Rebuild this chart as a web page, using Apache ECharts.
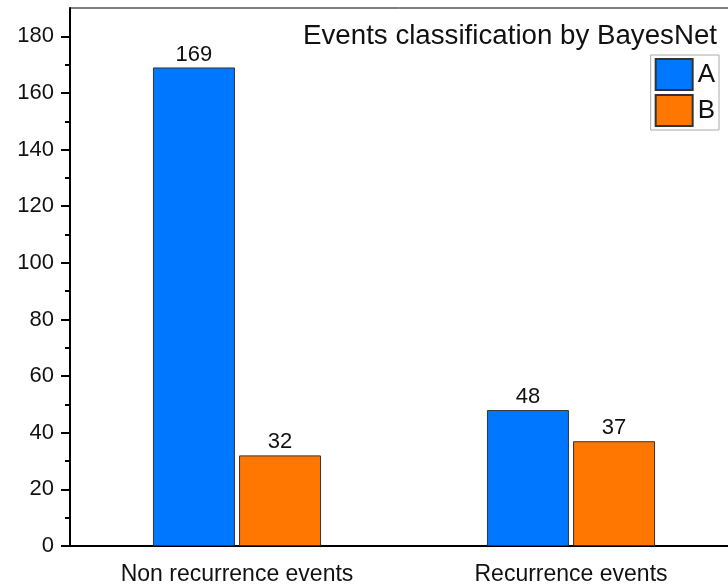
<!DOCTYPE html>
<html>
<head>
<meta charset="utf-8">
<script src="https://cdn.jsdelivr.net/npm/echarts@6/dist/echarts.min.js"></script>
<style>html,body{margin:0;padding:0;background:#fff}#c{width:728px;height:588px}</style>
</head>
<body>
<div id="c"></div>
<script>
const categories = ['Non recurrence events', 'Recurrence events'];
const seriesA = [169, 48];
const seriesB = [32, 37];
const seriesNames = ['A', 'B'];
const titleText = 'Events classification by BayesNet';
const majorTicks = [0, 20, 40, 60, 80, 100, 120, 140, 160, 180];
const minorTicks = [10, 30, 50, 70, 90, 110, 130, 150, 170];

const font = 'Liberation Sans, Arial, sans-serif';
const chart = echarts.init(document.getElementById('c'));
chart.setOption({
  animation: false,
  backgroundColor: '#fff',
  title: {
    text: titleText, right: 6, top: 17,
    textStyle: {fontFamily: font, fontSize: 27.7, fontWeight: 'normal', color: '#111'}
  },
  legend: {
    orient: 'vertical', right: 9, top: 55,
    data: seriesNames,
    borderColor: '#aaa', borderWidth: 1,
    padding: [3, 4, 3, 4],
    itemWidth: 37, itemHeight: 31, itemGap: 3,
    icon: 'rect',
    textStyle: {fontFamily: font, fontSize: 26, color: '#111'}
  },
  grid: {left: 70, top: 8, width: 668, height: 538, outerBoundsMode: 'none', containLabel: false,
    show: true, borderColor: '#000', borderWidth: 1, backgroundColor: 'transparent'},
  xAxis: [{
    type: 'category', data: categories, position: 'bottom',
    axisLine: {lineStyle: {color: '#000', width: 2}},
    axisTick: {alignWithLabel: true, length: 10, lineStyle: {color: '#000', width: 2}},
    axisLabel: {fontFamily: font, fontSize: 23, color: '#111', margin: 17}
  }, {
    type: 'category', data: categories, position: 'bottom',
    axisLine: {show: false},
    axisTick: {length: 4, lineStyle: {color: '#000', width: 2}},
    axisLabel: {show: false}
  }],
  yAxis: [{
    type: 'value', min: 0, max: 190, interval: 20, position: 'left',
    splitLine: {show: false},
    axisLine: {show: true, lineStyle: {color: '#000', width: 2}},
    axisTick: {show: true, length: 9, customValues: majorTicks, lineStyle: {color: '#000', width: 2}},
    axisLabel: {fontFamily: font, fontSize: 22, color: '#111', margin: 16, customValues: majorTicks}
  }, {
    type: 'value', min: 0, max: 190, interval: 20, position: 'left',
    splitLine: {show: false},
    axisLine: {show: false},
    axisTick: {show: true, length: 5, customValues: minorTicks, lineStyle: {color: '#000', width: 2}},
    axisLabel: {show: false}
  }],
  series: [{
    name: seriesNames[0], type: 'bar', data: seriesA, barWidth: 82, barGap: '5%',
    itemStyle: {color: '#0077FF', borderColor: '#333', borderWidth: 1},
    label: {show: true, position: 'top', distance: 2, fontFamily: font, fontSize: 22, color: '#111'}
  }, {
    name: seriesNames[1], type: 'bar', data: seriesB, barWidth: 82,
    itemStyle: {color: '#FF7700', borderColor: '#333', borderWidth: 1},
    label: {show: true, position: 'top', distance: 2, fontFamily: font, fontSize: 22, color: '#111'}
  }]
});
</script>
</body>
</html>
